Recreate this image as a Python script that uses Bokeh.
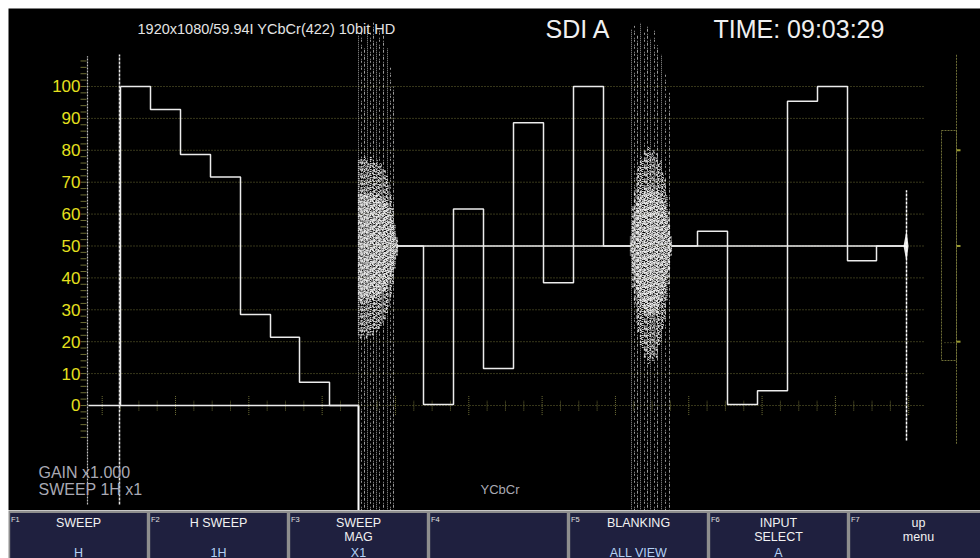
import numpy as np
from bokeh.plotting import figure
from bokeh.models import Range1d, ColumnDataSource
from bokeh.layouts import column
from bokeh.embed import file_html
from bokeh.resources import INLINE
from bokeh.core.properties import value

# ---------------- data ----------------
y_ticks = [0, 10, 20, 30, 40, 50, 60, 70, 80, 90, 100]
y_tick_labels = ["0", "10", "20", "30", "40", "50", "60", "70", "80", "90", "100"]
minor_ticks = list(range(-10, 110, 2))

bars = ["White", "Yellow", "Cyan", "Green", "Magenta", "Red", "Blue", "Black"]
# horizontal sample positions of bar edges (per parade section)
y_edges = [120, 150, 180, 210, 240, 270, 299, 329, 358]
y_levels = [100, 92.8, 78.7, 71.6, 28.5, 21.4, 7.3, 0]
cb_edges = [396, 423, 453, 483, 513, 543, 573, 603, 630]
cb_levels = [50, 0.3, 61.6, 11.6, 88.6, 38.5, 100, 50]
cr_edges = [671, 697, 727, 757, 787, 817, 847, 876, 905]
cr_levels = [50, 54.6, 0.3, 4.6, 95.4, 100, 45.4, 50]

# blanking bursts (EAV/SAV): tall traces
burst1_x = [358, 361, 364, 367, 370, 373, 376, 379, 383, 387, 390, 393]
burst1_top = [116, 118, 112, 119, 117, 120, 114, 118, 116, 112, 106, 100]
burst2_x = [631, 634, 637, 640, 644, 647, 650, 654, 657, 661, 665, 669]
burst2_top = [118, 119, 116, 120, 117, 119, 115, 118, 113, 110, 104, 98]
# dense noise envelope of the bursts
b1_cols = [358, 360, 362, 364, 366, 368, 370, 372, 374, 376, 378, 380, 382, 384, 386, 388, 390, 392, 394, 396]
b1_top = [77, 78, 77, 78, 77, 76, 78, 77, 76, 77, 75, 76, 74, 74, 72, 70, 66, 62, 57, 53]
b1_bot = [22, 21, 22, 23, 21, 22, 23, 22, 24, 23, 24, 25, 26, 27, 29, 31, 34, 38, 43, 47]
b2_cols = [630, 632, 634, 636, 638, 640, 642, 644, 646, 648, 650, 652, 654, 656, 658, 660, 662, 664, 666, 668, 670]
b2_top = [53, 63, 68, 73, 75, 78, 77, 80, 79, 81, 79, 80, 78, 79, 76, 77, 73, 71, 66, 61, 53]
b2_bot = [47, 37, 32, 26, 23, 19, 18, 15, 16, 13, 15, 14, 16, 15, 19, 20, 24, 27, 33, 38, 47]

menu_keys = ["F1", "F2", "F3", "F4", "F5", "F6", "F7"]
menu_line1 = ["SWEEP", "H SWEEP", "SWEEP", "", "BLANKING", "INPUT", "up"]
menu_line2 = ["", "", "MAG", "", "", "SELECT", "menu"]
menu_value = ["H", "1H", "X1", "", "ALL VIEW", "A", ""]

GRAT = "#6e6e36"
YEL = "#e6e01e"
TRACE = "#ececec"
FONT = value("Liberation Sans")
DASHES = ["1 1", "2 1 1 3", "1 2 3 1", "1 3 1 1", "3 1 1 2", "1 1 2 2"]

# ---------------- waveform figure ----------------
top = figure(width=980, height=510, x_range=Range1d(8, 980), y_range=Range1d(-32.92, 124.45),
             output_backend="svg", toolbar_location=None, min_border=0,
             min_border_left=8, min_border_top=8,
             x_axis_location=None, y_axis_location=None,
             background_fill_color="black", border_fill_color="white", outline_line_color=None)
top.grid.visible = False

# graticule lines
top.segment(x0=[88] * len(y_ticks), x1=[925] * len(y_ticks), y0=y_ticks, y1=y_ticks,
            line_color=GRAT, line_width=1, line_dash="1 2")
# left scale ticks
top.segment(x0=[80] * len(minor_ticks), x1=[86] * len(minor_ticks), y0=minor_ticks, y1=minor_ticks,
            line_color=GRAT, line_width=1)
top.text(x=[80] * len(y_ticks), y=y_ticks, text=y_tick_labels, text_align="right",
         text_baseline="middle", text_color=YEL, text_font=FONT, text_font_size=value("17px"))

# timing ticks on the 0 line
tx = np.arange(101.7, 910, 18.33)
tlen = [3.0 if i % 4 == 0 else 1.6 for i in range(len(tx))]
top.segment(x0=tx, x1=tx, y0=[-t for t in tlen], y1=tlen, line_color=GRAT, line_width=1, line_dash="1 1")

# right side marker
top.quad(left=[941], right=[956], bottom=[14.1], top=[86.2], fill_color=None,
         line_color=GRAT, line_dash="2 1", line_width=1)
top.segment(x0=[956], x1=[956], y0=[-12], y1=[110], line_color=GRAT, line_dash="2 1")
top.segment(x0=[956] * 3, x1=[960] * 3, y0=[80, 50, 20], y1=[80, 50, 20], line_color="#9a9a30", line_width=2)
top.segment(x0=[944], x1=[955], y0=[19.7], y1=[19.7], line_color=GRAT, line_dash="1 2")

# blanking bursts
def burst(xs, tops, cols, ctop, cbot):
    n = len(xs)
    for k, d in enumerate(DASHES[:3]):
        sel = list(range(k, n, 3))
        top.segment(x0=[xs[i] for i in sel], x1=[xs[i] for i in sel], y0=[-33] * len(sel),
                    y1=[tops[i] for i in sel], line_color="white",
                    line_alpha=0.6, line_width=1, line_dash=d)
    m = len(cols)
    itop = [50 + (t - 50) * 0.6 for t in ctop]
    ibot = [50 - (50 - b) * 0.6 for b in cbot]
    for k, d in enumerate(DASHES):
        sel = list(range(k % 6, m, 6))
        cx = [cols[i] for i in sel]
        top.segment(x0=cx, x1=cx, y0=[cbot[i] for i in sel], y1=[ctop[i] for i in sel],
                    line_color="white", line_alpha=0.8, line_width=1.3, line_dash=d)
        sx = [c + 1 for c in cx]
        d2 = DASHES[(k + 3) % 6]
        top.segment(x0=sx, x1=sx, y0=[cbot[i] for i in sel], y1=[ctop[i] for i in sel],
                    line_color="white", line_alpha=0.6, line_width=1.0, line_dash=d2, line_dash_offset=k)
        top.segment(x0=cx, x1=cx, y0=[ibot[i] for i in sel], y1=[itop[i] for i in sel],
                    line_color="white", line_alpha=0.75, line_width=1.2,
                    line_dash=DASHES[(k + 1) % 6], line_dash_offset=k + 2)
        top.segment(x0=sx, x1=sx, y0=[ibot[i] for i in sel], y1=[itop[i] for i in sel],
                    line_color="white", line_alpha=0.7, line_width=1.2,
                    line_dash=DASHES[(k + 4) % 6], line_dash_offset=k + 1)

burst(burst1_x, burst1_top, b1_cols, b1_top, b1_bot)
burst(burst2_x, burst2_top, b2_cols, b2_top, b2_bot)
top.segment(x0=[358], x1=[358], y0=[-33], y1=[0], line_color="white", line_width=2)

# left reference lines
top.segment(x0=[87], x1=[87], y0=[-31], y1=[109.5], line_color="white",
            line_alpha=0.75, line_width=1.2, line_dash="2 1")
top.segment(x0=[119], x1=[119], y0=[-31], y1=[110], line_color="white",
            line_alpha=0.9, line_width=1.5, line_dash="3 1")

# baselines
top.line([88, 358], [0, 0], line_color=TRACE, line_width=1.5)
top.line([396, 630], [50, 50], line_color=TRACE, line_width=1.5)
top.line([671, 905], [50, 50], line_color=TRACE, line_width=1.5)

# step waveforms
def steps(edges, levels):
    xs, ys = [], []
    for i, lv in enumerate(levels):
        xs += [edges[i], edges[i + 1]]
        ys += [lv, lv]
    return xs, ys

for e, l in [(y_edges, y_levels), (cb_edges, cb_levels), (cr_edges, cr_levels)]:
    xs, ys = steps(e, l)
    top.line(xs, ys, line_color=TRACE, line_width=1.5)
top.line([120, 120], [0, 100], line_color=TRACE, line_width=1.5)

# right spike
top.segment(x0=[906], x1=[906], y0=[-11], y1=[67.5], line_color="white", line_width=1.5, line_dash="3 1")
top.patch([903, 906, 908, 906], [50, 55, 50, 45], fill_color="white", fill_alpha=0.9, line_color=None)

# texts
top.text(x=[137], y=[117.9], text=["1920x1080/59.94I YCbCr(422) 10bit HD"], text_color="#e4e4e4",
         text_font=FONT, text_font_size=value("14.5px"), text_baseline="middle")
top.text(x=[545, 713], y=[117.9, 117.9], text=["SDI A", "TIME: 09:03:29"], text_color="#f0f0f0",
         text_font=FONT, text_font_size=value("25px"), text_baseline="middle")
top.text(x=[38, 38], y=[-21.0, -26.3], text=["GAIN  x1.000", "SWEEP  1H x1"], text_color="#a9a9b4",
         text_font=FONT, text_font_size=value("16px"), text_baseline="middle")
top.text(x=[480], y=[-26.3], text=["YCbCr"], text_color="#a9a9b4",
         text_font=FONT, text_font_size=value("13px"), text_baseline="middle")

# ---------------- menu bar ----------------
n = len(menu_keys)
idx = list(range(n))
bot = figure(width=980, height=48, x_range=Range1d(0, 972 / 140), y_range=Range1d(0, 48),
             output_backend="svg", toolbar_location=None, min_border=0, min_border_left=8,
             x_axis_location=None, y_axis_location=None,
             background_fill_color="#8e8e8e", border_fill_color="white", outline_line_color=None)
bot.grid.visible = False
msrc = ColumnDataSource(dict(left=[i + 0.012 for i in idx], right=[i + 0.988 for i in idx],
                             cx=[i + 0.5 for i in idx], fx=[i + 0.018 for i in idx],
                             key=menu_keys, l1=menu_line1, l2=menu_line2, v=menu_value))
bot.quad(left="left", right="right", bottom=-1, top=45.5, source=msrc,
         fill_color="#1f203f", line_color=None)
bot.text(x="fx", y=43.5, text="key", source=msrc, text_color="#e0e0e0", text_font=FONT,
         text_font_size=value("7.5px"), text_baseline="top")
bot.text(x="cx", y=36, text="l1", source=msrc, text_color="#f2f2f2", text_font=FONT,
         text_font_size=value("12.5px"), text_align="center", text_baseline="middle")
bot.text(x="cx", y=22, text="l2", source=msrc, text_color="#f2f2f2", text_font=FONT,
         text_font_size=value("12.5px"), text_align="center", text_baseline="middle")
bot.text(x="cx", y=6, text="v", source=msrc, text_color="#b4d2f5", text_font=FONT,
         text_font_size=value("12.5px"), text_align="center", text_baseline="middle")

layout = column(top, bot, spacing=0)
open("out.html", "w").write(file_html(layout, INLINE))
